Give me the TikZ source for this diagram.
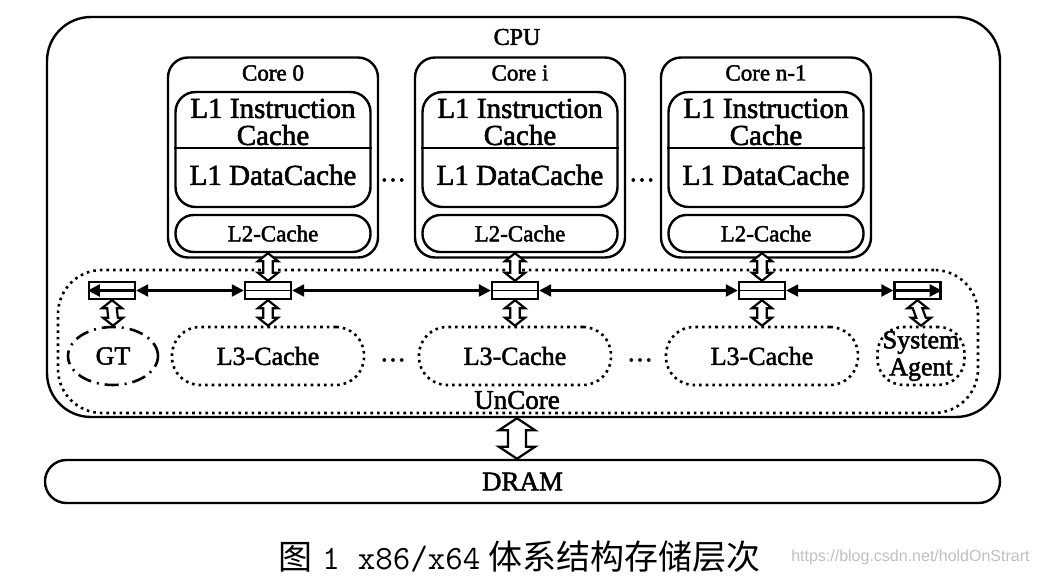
\documentclass[tikz,border=0pt]{standalone}
\usepackage{fontspec}
\setmainfont{Liberation Serif}[FakeBold=2]
\newfontfamily\cjk{Noto Sans CJK SC}
\newfontfamily\wmfont{Liberation Sans}
\usetikzlibrary{positioning,arrows.meta,shapes.geometric,calc}

% hollow two-headed block arrow from #1 (top) to #2 (bottom)
% #3 head half width, #4 shaft half width, #5 head length
\newcommand{\fatarr}[5]{%
  \draw[line width=1.1pt,fill=white,line join=miter] let \p1=(#1),\p2=(#2) in
    (\p1) -- (\x1+#3,\y1-#5) -- (\x1+#4,\y1-#5) -- (\x2+#4,\y2+#5) -- (\x2+#3,\y2+#5)
    -- (\p2) -- (\x2-#3,\y2+#5) -- (\x2-#4,\y2+#5) -- (\x1-#4,\y1-#5) -- (\x1-#3,\y1-#5) -- cycle;}

\begin{document}
\begin{tikzpicture}[x=0.5pt,y=-0.5pt,
box/.style={draw,line width=1.2pt,rounded corners=10pt,inner sep=0pt},
core/.style={box,minimum width=105pt,minimum height=100pt},
l1box/.style={box,minimum width=97.5pt,minimum height=57.5pt},
l2box/.style={box,rounded corners=9pt,minimum width=97.5pt,minimum height=18.5pt,font=\fontsize{11.5}{12}\selectfont},
l3box/.style={draw,dotted,line width=1.3pt,rounded corners=14pt,minimum width=96pt,minimum height=29pt,font=\fontsize{13}{13.5}\selectfont},
port/.style={draw,line width=1.2pt,minimum width=23pt,minimum height=8.5pt,inner sep=0pt},
txt/.style={inner sep=0pt,font=\fontsize{13}{13.5}\selectfont},
bus/.style={line width=1.2pt,{Triangle[length=6pt,width=6pt]}-{Triangle[length=6pt,width=6pt]}}
]
\useasboundingbox (0,0) rectangle (1038,582);

% CPU and uncore frames
\node[box,rounded corners=22pt,minimum width=476.5pt,minimum height=200pt] (cpu) at (523.5,217) {};
\node[txt,font=\fontsize{12}{12}\selectfont] (cputxt) at (517,37) {CPU};
\node[draw,dotted,line width=1.3pt,rounded corners=22pt,minimum width=460pt,minimum height=71.5pt] (uncore) at (518,341.5) {};
\node[txt,font=\fontsize{13.5}{14}\selectfont] (uncoretxt) at (517,400) {UnCore};

% cores, L3 slices and ring stops
\foreach \k/\cx/\bx/\t in {0/273/268/Core 0,1/520/515/Core i,2/766/762/Core n-1}{
  \node[core] (core\k) at (\cx,157.5) {};
  \node[txt,font=\fontsize{11.5}{12}\selectfont] (ct\k) at (\cx,73) {\t};
  \node[l1box] (l1\k) at (\cx,149.5) {};
  \draw[line width=1.2pt] (l1\k.west |- 0,148) -- (l1\k.east |- 0,148);
  \node[txt,align=center,font=\fontsize{14.5}{13.5}\selectfont] (l1i\k) at (\cx,122) {L1 Instruction\\Cache};
  \node[txt,font=\fontsize{14.5}{14.5}\selectfont] (l1d\k) at (\cx,175) {L1 DataCache};
  \node[l2box] (l2\k) at (\cx,233.5) {L2-Cache};
  \node[port] (p\k) at (\bx,290.5) {};
  \draw[line width=0.6pt] (p\k.west) -- (p\k.east);
  \node[l3box] (l3\k) at (\bx,356) {L3-Cache};
  \coordinate (u\k) at (p\k.north |- l2\k.south);
}
\foreach \k in {0,1,2}{
  \fatarr{u\k}{p\k.north}{5pt}{2.4pt}{4pt}
  \fatarr{p\k.south}{l3\k.north}{5pt}{2.4pt}{4pt}
}

\node[txt] (dt1) at (393,180) {\dots};
\node[txt] (dt2) at (642,180) {\dots};
\node[txt] (dt3) at (393,360) {\dots};
\node[txt] (dt4) at (640,360) {\dots};

% graphics and system agent
\node[port] (pg) at (112,290.5) {};
\node[port] (ps) at (917.5,290.5) {};
\node[draw,ellipse,line width=1.3pt,dash pattern=on 7pt off 3pt on 1pt off 3pt,minimum width=45pt,minimum height=29pt,txt] (gt) at (113,356) {GT};
\node[draw,dotted,line width=1.3pt,rounded corners=13pt,minimum width=43.5pt,minimum height=29pt,txt,align=center] (sa) at (921,356) {System\\Agent};
\draw[line width=1.2pt,-{Triangle[length=6pt,width=6pt]}] (pg.east) -- (pg.west);
\draw[line width=1.2pt,-{Triangle[length=6pt,width=6pt]}] (ps.west) -- (ps.east);
\fatarr{pg.south}{gt.north}{5pt}{2.4pt}{4pt}
\fatarr{ps.south}{sa.north}{5pt}{2.4pt}{4pt}

% ring bus
\draw[bus] (pg.east) -- (p0.west);
\draw[bus] (p0.east) -- (p1.west);
\draw[bus] (p1.east) -- (p2.west);
\draw[bus] (p2.east) -- (ps.west);

% memory
\node[box,rounded corners=10.7pt,minimum width=477.5pt,minimum height=21.5pt,txt,font=\fontsize{13.5}{14}\selectfont] (dram) at (522.5,481.5) {DRAM};
\coordinate (mtop) at (uncoretxt |- cpu.south);
\coordinate (mbot) at (uncoretxt |- dram.north);
\fatarr{mtop}{mbot}{9pt}{4.5pt}{6pt}

% caption
\node[anchor=west,inner sep=0pt,font=\fontsize{17}{17}\selectfont] (cap) at (278,557)
  {{\cjk 图}\hspace{5pt}{\ttfamily\fontsize{17}{17}\selectfont 1\hspace{9pt}x86/x64}\hspace{4pt}{\cjk 体系结构存储层次}};
\node[anchor=east,inner sep=0pt,text=gray!50,font=\wmfont\fontsize{8}{8}\selectfont] (wm) at (1030,557) {https://blog.csdn.net/holdOnStrart};
\end{tikzpicture}
\end{document}
